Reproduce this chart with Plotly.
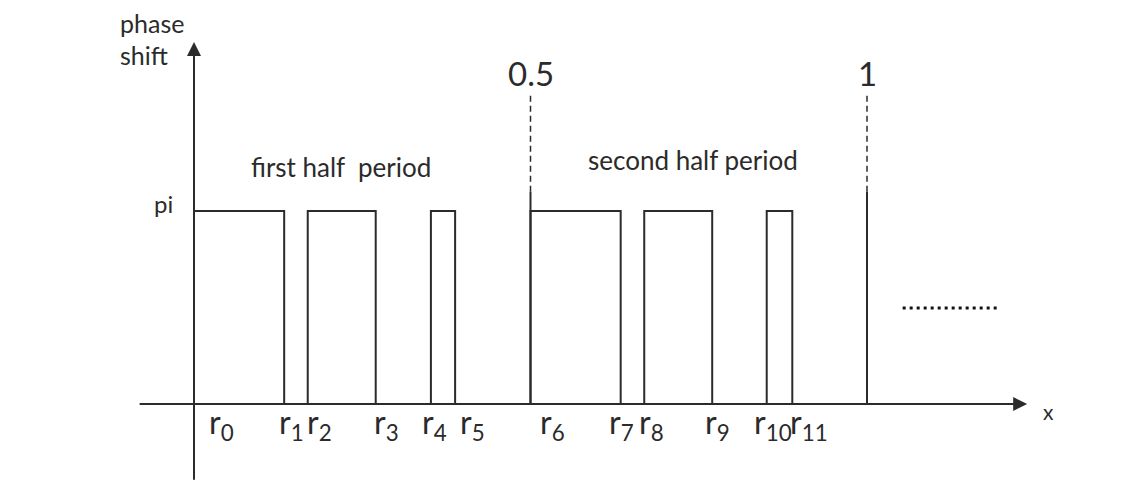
import plotly.graph_objects as go

# ---- data (x in fractions of one period, y in units of pi) ----
r_labels = ["r<sub>0</sub>", "r<sub>1</sub>", "r<sub>2</sub>", "r<sub>3</sub>", "r<sub>4</sub>", "r<sub>5</sub>",
            "r<sub>6</sub>", "r<sub>7</sub>", "r<sub>8</sub>", "r<sub>9</sub>", "r<sub>10</sub>", "r<sub>11</sub>"]
r_pos = [0.0, 0.134, 0.169, 0.270, 0.352, 0.388, 0.5, 0.634, 0.669, 0.770, 0.851, 0.889]
pi_level = 1.0
period_marks = [0.5, 1.0]
period_labels = ["0.5", "1"]
half_labels = ["first half  period", "second half period"]
half_label_x = [0.218, 0.741]

# label offsets (style)
r_label_shift = [13, -7, -3, -4, -11, 3, 7, -14, -7, -9, -15, -4]

INK = "#2b2b2b"
FONT = "Lato, 'Open Sans', sans-serif"

# build square wave from transitions
xs, ys = [r_pos[0]], [0.0]
level = 0.0
for r in r_pos:
    xs += [r, r]
    ys += [level, pi_level - level]
    level = pi_level - level
xs.append(period_marks[-1])
ys.append(level)

fig = go.Figure()
fig.add_trace(go.Scatter(x=xs, y=ys, mode="lines",
                         line=dict(color=INK, width=2), hoverinfo="skip", showlegend=False))

# vertical markers at 0.5 and 1: solid part and dashed part
for m in period_marks:
    fig.add_trace(go.Scatter(x=[m, m], y=[0, 1.1 * pi_level], mode="lines",
                             line=dict(color=INK, width=2), hoverinfo="skip", showlegend=False))
    fig.add_trace(go.Scatter(x=[m, m], y=[1.1 * pi_level, 1.6 * pi_level], mode="lines",
                             line=dict(color=INK, width=1.5, dash="6px,4px"),
                             hoverinfo="skip", showlegend=False))

# continuation dots
fig.add_trace(go.Scatter(x=[1.053, 1.195], y=[0.497, 0.497], mode="lines",
                         line=dict(color="#111", width=3, dash="3px,4px"),
                         hoverinfo="skip", showlegend=False))

ann = []
# axes with arrows
ann.append(dict(x=1.238, y=0, ax=-0.083, ay=0, xref="x", yref="y", axref="x", ayref="y",
                showarrow=True, arrowhead=2, arrowsize=1.4, arrowwidth=2, arrowcolor=INK,
                standoff=0, text=""))
ann.append(dict(x=0, y=1.876, ax=0, ay=-0.40, xref="x", yref="y", axref="x", ayref="y",
                showarrow=True, arrowhead=2, arrowsize=1.4, arrowwidth=2, arrowcolor=INK,
                standoff=0, text=""))

# r labels
for lab, xp, sh in zip(r_labels, r_pos, r_label_shift):
    ann.append(dict(x=xp, y=-0.105, xref="x", yref="y", text=lab, showarrow=False,
                    xanchor="left", yanchor="middle", xshift=sh,
                    font=dict(family=FONT, size=32, color=INK)))

# period labels
for lab, m in zip(period_labels, period_marks):
    ann.append(dict(x=m, y=1.715, xref="x", yref="y", text=lab, showarrow=False,
                    xanchor="center", yanchor="middle",
                    font=dict(family=FONT, size=33, color=INK)))

# half period labels
for lab, hx, yy in zip(half_labels, half_label_x, [1.228, 1.264]):
    ann.append(dict(x=hx, y=yy, xref="x", yref="y", text=lab, showarrow=False,
                    xanchor="center", yanchor="middle",
                    font=dict(family=FONT, size=26, color=INK)))

# pi, axis titles
ann.append(dict(x=-0.046, y=1.04, xref="x", yref="y", text="pi", showarrow=False,
                xanchor="center", yanchor="middle", font=dict(family=FONT, size=24, color=INK)))
ann.append(dict(x=-0.113, y=1.975, xref="x", yref="y", text="phase", showarrow=False,
                xanchor="left", yanchor="middle", font=dict(family=FONT, size=25, color=INK)))
ann.append(dict(x=-0.113, y=1.81, xref="x", yref="y", text="shift", showarrow=False,
                xanchor="left", yanchor="middle", font=dict(family=FONT, size=25, color=INK)))
ann.append(dict(x=1.269, y=-0.04, xref="x", yref="y", text="x", showarrow=False,
                xanchor="center", yanchor="middle", font=dict(family=FONT, size=21, color=INK)))

fig.update_layout(
    width=1143, height=481, autosize=False,
    margin=dict(l=0, r=0, t=0, b=0, pad=0),
    paper_bgcolor="white", plot_bgcolor="white",
    xaxis=dict(range=[-194 / 673, 949 / 673], visible=False, fixedrange=True),
    yaxis=dict(range=[-77 / 193, 404 / 193], visible=False, fixedrange=True),
    annotations=ann, showlegend=False,
)

fig.write_html("out.html", config={"displayModeBar": False},
               post_script="document.body.style.margin='0';document.body.style.overflow='hidden';")
